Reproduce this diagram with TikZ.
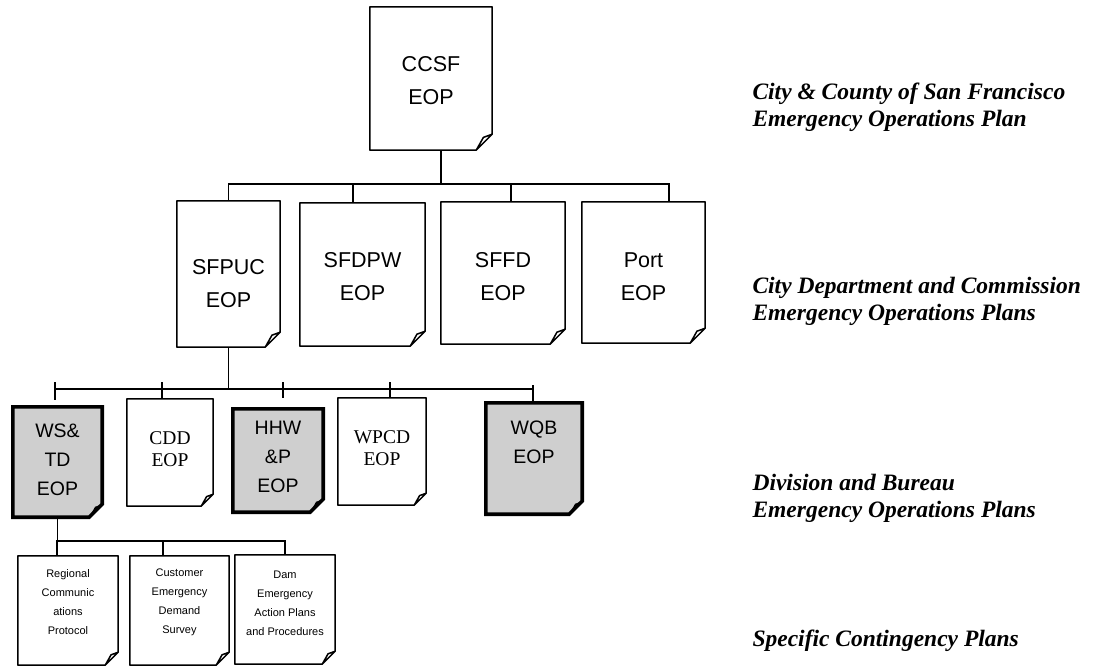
\documentclass[tikz,border=0pt]{standalone}
\usepackage{fontspec}
\setmainfont{Liberation Serif}
\setsansfont{Liberation Sans}

\begin{document}
\begin{tikzpicture}[x=1pt, y=-1pt]
    \tikzstyle{doc} = [shape=rectangle, draw=none, inner sep=0pt]
    \tikzstyle{wire} = [line width=1.5pt]
    \tikzstyle{plain} = [line width=1.5pt, fill=white, line join=round]
    \tikzstyle{shade} = [line width=3.6pt, fill=gray!38]
    \tikzstyle{big} = [font=\sffamily\fontsize{21.5}{33}\selectfont, align=center]
    \tikzstyle{mids} = [font=\sffamily\fontsize{19.5}{29}\selectfont, align=center]
    \tikzstyle{midr} = [font=\fontsize{19.5}{22}\selectfont, align=center]
    \tikzstyle{small} = [font=\sffamily\fontsize{11}{19}\selectfont, align=center]
    \tikzstyle{side} = [font=\bfseries\itshape\fontsize{23.5}{27}\selectfont, align=left, anchor=west]

    \useasboundingbox (0,0) rectangle (1096,666);

    % 文档框
    \path   (431, 78.5) node [doc, minimum width=122pt, minimum height=143pt, name=ccsf] {}
            (228.5, 274) node [doc, minimum width=103pt, minimum height=146pt, name=sfpuc] {}
            (362.5, 274.5) node [doc, minimum width=125pt, minimum height=143pt, name=sfdpw] {}
            (503, 273) node [doc, minimum width=124pt, minimum height=142pt, name=sffd] {}
            (643.5, 272.5) node [doc, minimum width=123pt, minimum height=141pt, name=port] {}
            (57.5, 462) node [doc, minimum width=89pt, minimum height=110pt, name=wstd] {}
            (170, 452.5) node [doc, minimum width=86pt, minimum height=107pt, name=cdd] {}
            (278, 460.5) node [doc, minimum width=90pt, minimum height=103pt, name=hhwp] {}
            (382, 451.5) node [doc, minimum width=88pt, minimum height=107pt, name=wpcd] {}
            (534, 458.5) node [doc, minimum width=96pt, minimum height=111pt, name=wqb] {}
            (68, 610.5) node [doc, minimum width=100pt, minimum height=109pt, name=regional] {}
            (179.5, 610.5) node [doc, minimum width=99pt, minimum height=109pt, name=customer] {}
            (285, 609.5) node [doc, minimum width=100pt, minimum height=109pt, name=dam] {};

    % 折角轮廓
    \foreach \n/\f in {ccsf/16, sfpuc/15, sfdpw/15, sffd/15, port/15, cdd/12, wpcd/12,
                       regional/13, customer/13, dam/13}
        \draw [plain] (\n.north west) -- (\n.north east) -- ([yshift=\f pt]\n.south east)
            -- ([xshift=-\f pt]\n.south east) -- (\n.south west) -- cycle
            ([yshift=\f pt]\n.south east) -- ([xshift={-0.55*\f pt}, yshift={0.8*\f pt}]\n.south east)
            -- ([xshift=-\f pt]\n.south east) -- cycle;
    \foreach \n/\f in {wstd/13, hhwp/13, wqb/13} {
        \draw [shade] (\n.north west) -- (\n.north east) -- ([yshift=\f pt]\n.south east)
            -- ([xshift=-\f pt]\n.south east) -- (\n.south west) -- cycle;
        \fill ([yshift=\f pt]\n.south east) -- ([xshift={-0.55*\f pt}, yshift={0.8*\f pt}]\n.south east)
            -- ([xshift=-\f pt]\n.south east) -- cycle;
    }

    % 文字
    \path   (431, 81) node [big, name=ccsf-t] {CCSF\\EOP}
            (228.5, 283.5) node [big, name=sfpuc-t] {SFPUC\\EOP}
            (362.5, 276.5) node [big, name=sfdpw-t] {SFDPW\\EOP}
            (503, 276.5) node [big, name=sffd-t] {SFFD\\EOP}
            (643.5, 276.5) node [big, name=port-t] {Port\\EOP}
            (57.5, 460) node [mids, name=wstd-t] {WS\&\\TD\\EOP}
            (170, 449) node [midr, name=cdd-t] {CDD\\EOP}
            (278, 456.5) node [mids, name=hhwp-t] {HHW\\\&P\\EOP}
            (382, 448) node [midr, name=wpcd-t] {WPCD\\EOP}
            (534, 442) node [mids, name=wqb-t] {WQB\\EOP}
            (68, 602.5) node [small, name=regional-t] {Regional\\Communic\\ations\\Protocol}
            (179.5, 602.5) node [small, name=customer-t] {Customer\\Emergency\\Demand\\Survey}
            (285, 603) node [small, name=dam-t] {Dam\\Emergency\\Action Plans\\and Procedures};

    % 层级说明
    \path   (749, 107) node [side, name=lab1] {City \& County of San Francisco\\Emergency Operations Plan}
            (749, 301.5) node [side, name=lab2] {City Department and Commission\\Emergency Operations Plans}
            (749, 498.5) node [side, name=lab3] {Division and Bureau\\Emergency Operations Plans}
            (749, 641) node [side, name=lab4] {Specific Contingency Plans};

    % 连线
    \coordinate (bar1) at (0, 184);
    \coordinate (bar2) at (0, 389);
    \coordinate (bar3) at (0, 541);

    \draw [wire] ([xshift=10pt]ccsf.south) -- ([xshift=10pt]ccsf.south |- bar1);
    \draw [wire] (sfpuc.north) -- (sfpuc.north |- bar1) -- ([xshift=25.5pt]port.north |- bar1)
        -- ([xshift=25.5pt]port.north);
    \draw [wire] ([xshift=-9.5pt]sfdpw.north) -- ([xshift=-9.5pt]sfdpw.north |- bar1);
    \draw [wire] ([xshift=8pt]sffd.north) -- ([xshift=8pt]sffd.north |- bar1);

    \draw [wire] (sfpuc.south) -- (sfpuc.south |- bar2);
    \draw [wire] ([xshift=-2.5pt]wstd.north |- bar2) -- ([xshift=-1pt]wqb.north |- bar2);
    \foreach \n/\dx/\up/\gap in {wstd/-2.5/7/7, cdd/-8/7/0, hhwp/5/7/11, wpcd/8/7/0, wqb/-1/4/0}
        \draw [wire] ([xshift=\dx pt, yshift=\up pt]\n.north |- bar2) -- ([xshift=\dx pt, yshift=\gap pt]\n.north);

    \draw [wire] (wstd.south) -- (wstd.south |- bar3);
    \draw [wire] ([xshift=-11pt]regional.north) -- ([xshift=-11pt]regional.north |- bar3)
        -- (dam.north |- bar3) -- (dam.north);
    \draw [wire] ([xshift=-16.5pt]customer.north) -- ([xshift=-16.5pt]customer.north |- bar3);
\end{tikzpicture}
\end{document}
